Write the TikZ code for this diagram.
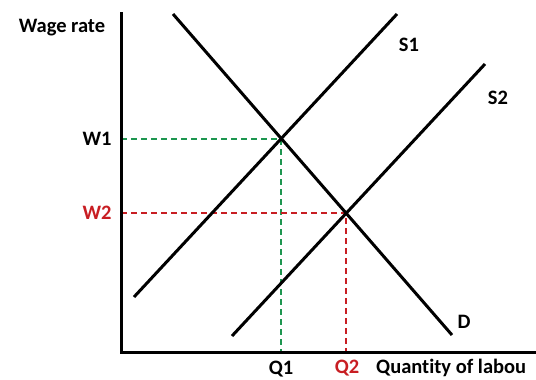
\documentclass[tikz,border=0pt]{standalone}
\usepackage{fontspec}
\setmainfont[Ligatures=NoCommon]{Carlito}
\definecolor{dgreen}{RGB}{30,150,80}
\definecolor{dred}{RGB}{200,30,35}
\begin{document}
\begin{tikzpicture}[x=1pt,y=-1pt,
  curve/.style={line width=3pt},
  axis/.style={line width=3pt},
  guide/.style={line width=1.1pt,dash pattern=on 6pt off 4pt},
  lbl/.style={font=\fontsize{20.5}{22}\selectfont\bfseries,inner sep=0pt}]
\useasboundingbox (0,0) rectangle (536,380);
\clip (0,0) rectangle (536,380);
% axes
\coordinate (O) at (121,352);
\coordinate (Ytop) at (121,13);
\coordinate (Xend) at (540,352);
% curves
\coordinate (S1a) at (134,297);
\coordinate (S1b) at (397,14);
\coordinate (S2a) at (232,336);
\coordinate (S2b) at (485,64);
\coordinate (Da) at (173,14);
\coordinate (Db) at (452,335);
\coordinate (E1) at (281,139);
\coordinate (E2) at (346,213);
\coordinate (W1a) at (121,139);
\coordinate (W2a) at (121,213);
\coordinate (Q1a) at (281,352);
\coordinate (Q2a) at (346,352);
% guides
\draw[guide,dgreen] (W1a) -- (E1) -- (Q1a);
\draw[guide,dred] (W2a) -- (E2) -- (Q2a);
\draw[curve] (S1a) -- (S1b);
\draw[curve] (S2a) -- (S2b);
\draw[curve] (Da) -- (Db);
\draw[axis,line cap=rect] (Ytop) -- (O) -- (Xend);
% labels
\node[lbl] (wr) at (62,28) {Wage rate};
\node[lbl] (w1) at (97,139) {W1};
\node[lbl,text=dred] (w2) at (97,213) {W2};
\node[lbl] (q1) at (281,369) {Q1};
\node[lbl,text=dred] (q2) at (347,368) {Q2};
\node[lbl,anchor=west] (ql) at (376,368) {Quantity of labou};
\node[lbl] (s1) at (409,45) {S1};
\node[lbl] (s2) at (498,98) {S2};
\node[lbl] (d) at (464,322) {D};
\end{tikzpicture}
\end{document}
